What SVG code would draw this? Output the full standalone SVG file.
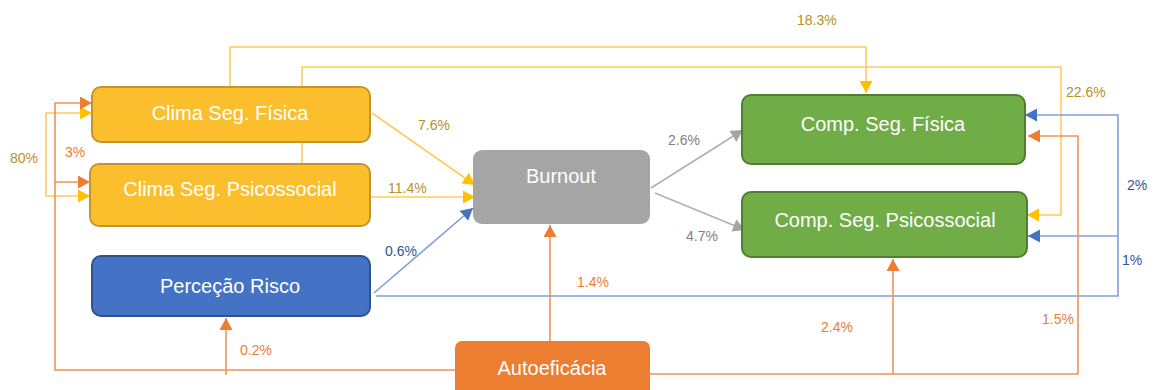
<svg xmlns="http://www.w3.org/2000/svg" width="1154" height="390" viewBox="0 0 1154 390">
<style>
.node text{font-family:"Liberation Sans",Arial,sans-serif;font-size:20px;fill:#fff;text-anchor:middle}
.lbl{font-family:"Liberation Sans",Arial,sans-serif;font-size:14px}
.ly{fill:#B8902A}.lo{fill:#ED7D31}.lb{fill:#2F5597}.lg{fill:#7F7F7F}
.cy{stroke:#FDCB5C;stroke-width:1.6;fill:none}
.co{stroke:#F0935A;stroke-width:1.6;fill:none}
.cb{stroke:#7F9FD8;stroke-width:1.6;fill:none}
.cg{stroke:#B0B0B0;stroke-width:1.6;fill:none}
</style>
<defs>
<marker id="ay" markerUnits="userSpaceOnUse" markerWidth="14" markerHeight="14" refX="12" refY="6.5" orient="auto"><path d="M0,0 L12,6.5 L0,13 z" fill="#FFC000"/></marker>
<marker id="ao" markerUnits="userSpaceOnUse" markerWidth="14" markerHeight="14" refX="12" refY="6.5" orient="auto"><path d="M0,0 L12,6.5 L0,13 z" fill="#ED7D31"/></marker>
<marker id="ab" markerUnits="userSpaceOnUse" markerWidth="14" markerHeight="14" refX="12" refY="6.5" orient="auto"><path d="M0,0 L12,6.5 L0,13 z" fill="#4472C4"/></marker>
<marker id="ag" markerUnits="userSpaceOnUse" markerWidth="14" markerHeight="14" refX="12" refY="6.5" orient="auto"><path d="M0,0 L12,6.5 L0,13 z" fill="#A5A5A5"/></marker>
</defs>
<g id="connectors">
<path class="cy" d="M230,87 V47 H866 V93" marker-end="url(#ay)"/>
<path class="cy" d="M302,164 V67 H1061 V215 H1027" marker-end="url(#ay)"/>
<path class="cy" d="M46,155 V113 H92" marker-end="url(#ay)"/>
<path class="cy" d="M46,155 V196 H90" marker-end="url(#ay)"/>
<path class="co" d="M455,370 H55 V103 H92" marker-end="url(#ao)"/>
<path class="co" d="M55,182 H90" marker-end="url(#ao)"/>
<path class="co" d="M226,375 V318" marker-end="url(#ao)"/>
<path class="cy" d="M372,113 L475,185" marker-end="url(#ay)"/>
<path class="cy" d="M370,197 H475" marker-end="url(#ay)"/>
<path class="cb" d="M374,293 L473,208" marker-end="url(#ab)"/>
<path class="cb" d="M376,296 H1118 V115 H1025" marker-end="url(#ab)"/>
<path class="cb" d="M1118,236 H1028" marker-end="url(#ab)"/>
<path class="co" d="M550,341 V225" marker-end="url(#ao)"/>
<path class="co" d="M650,374 H1078 V136 H1028" marker-end="url(#ao)"/>
<path class="co" d="M893,374 V259" marker-end="url(#ao)"/>
<path class="cg" d="M651,188 L743,130" marker-end="url(#ag)"/>
<path class="cg" d="M655,193 L745,230" marker-end="url(#ag)"/>
</g>
<g id="n-clima-fisica" class="node"><rect x="92" y="87" width="278" height="55" rx="9" fill="#FBBF2D" stroke="#C4952A" stroke-width="2"/><text x="230" y="120">Clima Seg. Física</text></g>
<g id="n-clima-psico" class="node"><rect x="90" y="164" width="280" height="62" rx="9" fill="#FBBF2D" stroke="#C4952A" stroke-width="2"/><text x="230" y="196">Clima Seg. Psicossocial</text></g>
<g id="n-percecao" class="node"><rect x="92" y="256" width="278" height="60" rx="9" fill="#4472C4" stroke="#2F528F" stroke-width="2"/><text x="230" y="293">Perceção Risco</text></g>
<g id="n-burnout" class="node"><rect x="473" y="150" width="177" height="74" rx="9" fill="#A5A5A5"/><text x="561" y="183">Burnout</text></g>
<g id="n-comp-fisica" class="node"><rect x="742" y="95" width="283" height="69" rx="9" fill="#70AD47" stroke="#507E32" stroke-width="2"/><text x="883" y="131">Comp. Seg. Física</text></g>
<g id="n-comp-psico" class="node"><rect x="742" y="192" width="285" height="65" rx="9" fill="#70AD47" stroke="#507E32" stroke-width="2"/><text x="885" y="227">Comp. Seg. Psicossocial</text></g>
<g id="n-autoeficacia" class="node"><rect x="455" y="341" width="195" height="60" rx="7" fill="#ED7D31"/><text x="552" y="375">Autoeficácia</text></g>
<g id="labels">
<text class="lbl ly" x="797" y="25">18.3%</text>
<text class="lbl ly" x="1066" y="97">22.6%</text>
<text class="lbl ly" x="418" y="130">7.6%</text>
<text class="lbl ly" x="388" y="193">11.4%</text>
<text class="lbl ly" x="10" y="163">80%</text>
<text class="lbl lo" x="65" y="157">3%</text>
<text class="lbl lb" x="385" y="256">0.6%</text>
<text class="lbl lo" x="577" y="287">1.4%</text>
<text class="lbl lo" x="240" y="355">0.2%</text>
<text class="lbl lg" x="668" y="145">2.6%</text>
<text class="lbl lg" x="686" y="241">4.7%</text>
<text class="lbl lb" x="1127" y="190">2%</text>
<text class="lbl lb" x="1122" y="265">1%</text>
<text class="lbl lo" x="1042" y="324">1.5%</text>
<text class="lbl lo" x="821" y="332">2.4%</text>
</g>
</svg>
